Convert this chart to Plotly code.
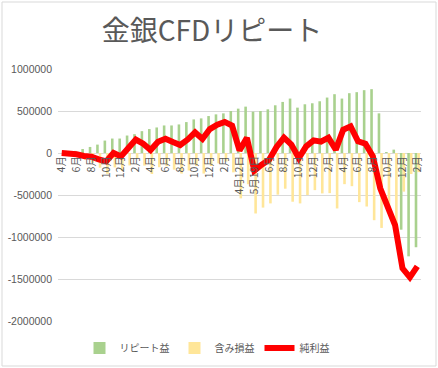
import plotly.graph_objects as go

# ---- data ----
categories = [
    "4月", "5月", "6月", "7月", "8月", "9月", "10月", "11月", "12月", "1月", "2月", "3月",
    "4月", "5月", "6月", "7月", "8月", "9月", "10月", "11月", "12月", "1月", "2月", "3月",
    "4月12日", "4月26日", "5月19日", "5月26日",
    "6月", "7月", "8月", "9月", "10月", "11月", "12月", "1月", "2月", "3月",
    "4月", "5月", "6月", "7月", "8月", "9月", "10月", "11月", "12月", "1月", "2月",
]

repeat_profit = [
    0, 5000, 25000, 48000, 72000, 100000, 148000, 172000, 172000, 208000, 224000, 260000,
    285000, 304000, 328000, 328000, 340000, 368000, 400000, 412000, 440000, 460000, 472000, 500000,
    528000, 552000, 492000, 500000,
    520000, 568000, 608000, 648000, 540000, 580000, 592000, 616000, 660000, 700000,
    648000, 712000, 724000, 748000, 760000, 472000, 10000, 40000, -913000, -1230000, -1122000,
]

unrealized = [
    0, -10000, -40000, -83000, -117000, -175000, -248000, -172000, -212000, -148000, -64000, -150000,
    -250000, -169000, -158000, -198000, -245000, -208000, -155000, -245000, -155000, -123000, -102000, -230000,
    -540000, -372000, -720000, -650000,
    -600000, -496000, -425000, -580000, -600000, -500000, -442000, -481000, -478000, -660000,
    -371000, -395000, -585000, -637000, -800000, -892000, -655000, -898000, -460000, -250000, -228000,
]

net_profit = [
    0, -5000, -15000, -35000, -45000, -75000, -100000, 0, -40000, 60000, 160000, 110000,
    35000, 135000, 170000, 130000, 95000, 160000, 245000, 167000, 285000, 337000, 370000, 325000,
    30000, 180000, -210000, -140000,
    -80000, 72000, 183000, 100000, -60000, 80000, 150000, 135000, 182000, 40000,
    277000, 317000, 139000, 111000, -40000, -420000, -645000, -858000, -1373000, -1480000, -1350000,
]

y_ticks = [1000000, 500000, 0, -500000, -1000000, -1500000, -2000000]
y_tick_labels = [str(v) for v in y_ticks]

title_text = "金銀CFDリピート"
series_names = ["リピート益", "含み損益", "純利益"]

# ---- figure ----
idx = list(range(len(categories)))
shown_idx = idx[::2]
shown_labels = [categories[i] for i in shown_idx]

grey = "#595959"
jp_font = "Noto Sans CJK JP"

fig = go.Figure()
fig.add_trace(go.Bar(x=idx, y=repeat_profit, name=series_names[0],
                     marker=dict(color="#A9D18E", line=dict(width=0))))
fig.add_trace(go.Bar(x=idx, y=unrealized, name=series_names[1],
                     marker=dict(color="#FFE699", line=dict(width=0))))
fig.add_trace(go.Scatter(x=idx, y=net_profit, name=series_names[2], mode="lines",
                         line=dict(color="#FF0000", width=6)))

W, H = 438, 368
L, R, T, B = 58, 17, 69, 47
pw, ph = W - L - R, H - T - B

fig.update_layout(
    width=W, height=H,
    margin=dict(l=L, r=R, t=T, b=B, pad=0, autoexpand=False),
    paper_bgcolor="white", plot_bgcolor="white",
    font=dict(family=jp_font, color=grey, size=10),
    title=dict(text=title_text, x=212 / W, xanchor="center", y=1 - 31 / H, yanchor="middle",
               font=dict(family=jp_font, size=28, color=grey)),
    barmode="group", bargap=0.3, bargroupgap=0,
    showlegend=True,
    legend=dict(orientation="h", xref="container", x=207 / W, xanchor="center",
                yref="container", y=1 - 348 / H, yanchor="middle",
                font=dict(size=10, color=grey, family=jp_font),
                itemwidth=30, tracegroupgap=0),
    xaxis=dict(range=[-0.5, len(categories) - 0.5], tickmode="array",
               tickvals=shown_idx, ticktext=shown_labels, tickangle=-90,
               showgrid=False, zeroline=False, showline=False, ticks="",
               anchor="free", position=2 / 3,
               tickfont=dict(size=10.5, color=grey, family=jp_font)),
    yaxis=dict(range=[-2000000, 1000000], tickmode="array", tickvals=y_ticks,
               ticktext=y_tick_labels, showgrid=True, gridcolor="#D9D9D9", gridwidth=1,
               zeroline=False, showline=False, ticks="", ticklabelstandoff=5,
               tickfont=dict(size=10.5, color=grey, family="Liberation Sans")),
    shapes=[dict(type="rect", xref="paper", yref="paper",
                 x0=(2 - L) / pw, x1=(436 - L) / pw,
                 y0=(H - B - 366) / ph, y1=(H - B - 2) / ph,
                 line=dict(color="#D9D9D9", width=1), fillcolor="rgba(0,0,0,0)", layer="below")],
)

fig.write_html("out.html", config={"displayModeBar": False},
               post_script="document.body.style.margin='0';")
